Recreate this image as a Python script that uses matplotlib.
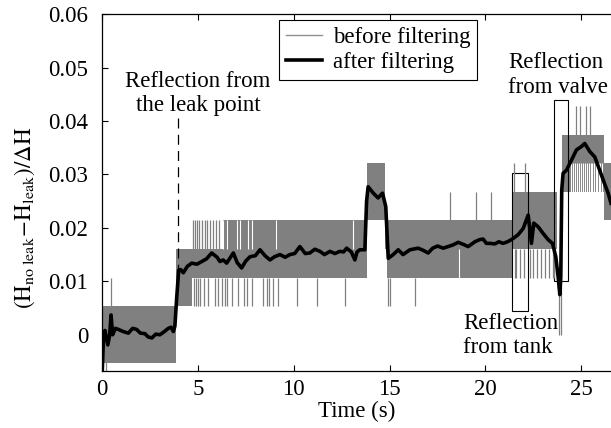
import matplotlib
matplotlib.use("Agg")
import matplotlib.pyplot as plt
from matplotlib.lines import Line2D
from matplotlib.patches import Rectangle

plt.rcParams['font.family'] = ['Liberation Serif', 'DejaVu Serif']
plt.rcParams['mathtext.fontset'] = 'stix'

# quantisation step of the raw signal
Q = 0.00535

# raw signal ("before filtering"): dense bands (t0, t1, low level, high level) in units of Q
band_t0 = [0.0, 3.85, 4.7, 6.3, 13.8, 14.75, 14.85, 21.4, 24.0, 26.2]
band_t1 = [3.85, 4.7, 6.3, 13.8, 14.75, 14.85, 21.4, 23.75, 26.2, 26.6]
band_lo = [-1, 1, 2, 2, 4, 3, 2, 3, 5, 4]
band_hi = [1, 3, 3, 4, 6, 4, 4, 5, 7, 6]

# isolated spikes of the raw signal
spike_t = [0.2, 0.47,
           4.75, 4.85, 4.95, 5.05, 5.2, 5.35, 5.5, 5.65, 5.8, 5.95, 6.1,
           4.78, 4.88, 4.98, 5.1, 5.3, 5.52, 5.9, 6.05, 6.25, 6.41, 6.53, 6.76, 7.1, 7.4,
           7.54, 7.8, 8.41, 8.59, 8.72, 8.93, 9.19, 10.15, 11.2, 12.67,
           14.93, 15.0, 16.3,
           18.14, 19.5, 20.3,
           21.5, 22.05, 21.7, 22.2,
           21.55, 21.62, 21.8, 22.0, 22.3, 22.5, 22.7, 22.9, 23.1, 23.3, 23.5, 23.6,
           23.85, 23.95,
           24.75, 24.92, 25.23, 25.44]
spike_lo = [-2, 1,
            3, 3, 3, 3, 3, 3, 3, 3, 3, 3, 3,
            1, 1, 1, 1, 1, 1, 1, 1, 1, 1, 1, 1, 1, 1,
            1, 1, 1, 1, 1, 1, 1, 1, 1, 1,
            1, 1, 1,
            4, 4, 4,
            5, 5, 5, 5,
            2, 2, 2, 2, 2, 2, 2, 2, 2, 2, 2, 2,
            0, 0,
            7, 7, 7, 7]
spike_hi = [0, 2,
            4, 4, 4, 4, 4, 4, 4, 4, 4, 4, 4,
            2, 2, 2, 2, 2, 2, 2, 2, 2, 2, 2, 2, 2, 2,
            2, 2, 2, 2, 2, 2, 2, 2, 2, 2,
            2, 2, 2,
            5, 5, 5,
            6, 6, 5, 5,
            3, 3, 3, 3, 3, 3, 3, 3, 3, 3, 3, 3,
            2, 5,
            8, 8, 8, 8]

# short gaps where the raw signal stays inside the band
gap_t = [6.32, 6.5, 7.02, 7.2, 7.63, 7.8, 9.1, 13.1, 18.6,
         24.45, 24.55, 24.68, 24.8, 24.88, 25.0, 25.08, 25.17, 25.3, 25.38, 25.5,
         25.58, 25.66, 25.75, 25.84, 25.92, 26.0, 26.08]
gap_lo = [3, 3, 3, 3, 3, 3, 3, 3, 2,
          5, 5, 5, 5, 5, 5, 5, 5, 5, 5, 5, 5, 5, 5, 5, 5, 5, 5]
gap_hi = [4, 4, 4, 4, 4, 4, 4, 4, 3,
          6, 6, 6, 6, 6, 6, 6, 6, 6, 6, 6, 6, 6, 6, 6, 6, 6, 6]

# filtered signal
filt_t = [0.0, 0.07, 0.15, 0.3, 0.4, 0.47, 0.55, 0.7, 0.85, 1.1, 1.37, 1.6, 1.8, 2.0,
          2.24, 2.4, 2.6, 2.8, 3.02, 3.25, 3.46, 3.6, 3.72, 3.8, 3.9, 4.0, 4.1, 4.24,
          4.45, 4.68, 4.95, 5.2, 5.45, 5.72, 6.0, 6.15, 6.32, 6.5, 6.85, 7.05, 7.28,
          7.5, 7.72, 8.0, 8.24, 8.5, 8.76, 9.0, 9.28, 9.55, 9.8, 10.05, 10.32, 10.6,
          10.84, 11.1, 11.37, 11.6, 11.89, 12.15, 12.4, 12.6, 12.76, 13.0, 13.19, 13.3,
          13.45, 13.71, 13.8, 13.88, 14.15, 14.4, 14.63, 14.8, 14.93, 15.19, 15.45,
          15.7, 16.06, 16.49, 16.75, 17.01, 17.25, 17.5, 17.8, 18.05, 18.3, 18.58,
          18.85, 19.1, 19.45, 19.7, 19.88, 20.05, 20.23, 20.49, 20.7, 20.92, 21.15,
          21.36, 21.7, 21.97, 22.23, 22.4, 22.52, 22.75, 23.0, 23.27, 23.5, 23.67,
          23.79, 23.88, 23.93, 23.98, 24.05, 24.23, 24.49, 24.75, 25.0, 25.18, 25.44,
          25.7, 25.96, 26.2, 26.4, 26.55]
filt_v = [-0.008, -0.001, 0.0008, -0.0019, 0.0, 0.0037, 0.0, 0.0012, 0.001, 0.0006,
          0.0003, 0.0012, 0.001, 0.0003, 0.0002, -0.0004, -0.0006, 0.0001, 0.0,
          0.0006, 0.0012, 0.0014, 0.0006, 0.0016, 0.0072, 0.0121, 0.0122, 0.0116,
          0.0128, 0.0134, 0.0132, 0.0137, 0.0142, 0.0153, 0.0145, 0.0137, 0.014,
          0.0134, 0.0153, 0.0135, 0.0125, 0.0138, 0.0146, 0.0148, 0.0159, 0.0148,
          0.014, 0.0146, 0.015, 0.0145, 0.015, 0.0152, 0.0165, 0.0152, 0.0153, 0.016,
          0.0156, 0.015, 0.0156, 0.0152, 0.0156, 0.0155, 0.0162, 0.0155, 0.014,
          0.0155, 0.0159, 0.0159, 0.025, 0.0277, 0.0265, 0.0256, 0.0265, 0.024,
          0.0143, 0.015, 0.0159, 0.015, 0.0159, 0.0162, 0.0158, 0.0153, 0.0162,
          0.0166, 0.0162, 0.0165, 0.0168, 0.0173, 0.0169, 0.0165, 0.0174, 0.0178,
          0.0179, 0.0171, 0.0171, 0.017, 0.0174, 0.0171, 0.0174, 0.0178, 0.0187,
          0.0199, 0.0224, 0.0171, 0.0209, 0.0202, 0.019, 0.0178, 0.0171, 0.0146,
          0.0109, 0.0075, 0.0109, 0.0271, 0.0302, 0.0308, 0.0327, 0.0346, 0.0352,
          0.0358, 0.0343, 0.0333, 0.0308, 0.0284, 0.0265, 0.0246]

xticks = [0, 5, 10, 15, 20, 25]
yticks = [0, 0.01, 0.02, 0.03, 0.04, 0.05, 0.06]
ytick_labels = ['0', '0.01', '0.02', '0.03', '0.04', '0.05', '0.06']

GRAY = '#808080'
FS = 16.5

fig = plt.figure(figsize=(6.11, 4.28), dpi=100)
ax = fig.add_axes([0.167, 0.133, 0.833, 0.834])

for t0, t1, lo, hi in zip(band_t0, band_t1, band_lo, band_hi):
    ax.fill_between([t0, t1], [lo * Q] * 2, [hi * Q] * 2, color=GRAY, lw=0)
ax.vlines(spike_t, [v * Q for v in spike_lo], [v * Q for v in spike_hi],
          color=GRAY, lw=0.9)
ax.vlines(gap_t, [v * Q for v in gap_lo], [v * Q for v in gap_hi],
          color='white', lw=0.8)

# leak point marker
ax.plot([3.95, 3.95], [0.0405, 0.012], color='black', lw=0.9, dashes=(8, 5))

ax.plot(filt_t, filt_v, color='black', lw=2.6, solid_joinstyle='round')

# boxes round the tank and valve reflections
ax.add_patch(Rectangle((21.37, 0.0044), 0.86, 0.0258, fill=False, ec='black', lw=0.8))
ax.add_patch(Rectangle((23.57, 0.0100), 0.74, 0.0339, fill=False, ec='black', lw=0.8))

ax.text(5.0, 0.0452, 'Reflection from\nthe leak point', ha='center', va='center',
        fontsize=FS, linespacing=1.2)
ax.text(18.85, -0.0002, 'Reflection\nfrom tank', ha='left', va='center',
        fontsize=FS, linespacing=1.2)
ax.text(21.2, 0.0486, 'Reflection\nfrom valve', ha='left', va='center',
        fontsize=FS, linespacing=1.2)

handles = [Line2D([], [], color='#909090', lw=1.0),
           Line2D([], [], color='black', lw=2.6)]
leg = ax.legend(handles, ['before filtering', 'after filtering'], loc='upper left',
                bbox_to_anchor=(0.348, 0.983), fontsize=FS, fancybox=False,
                framealpha=1, edgecolor='black', handlelength=1.55,
                handletextpad=0.5, borderpad=0.3, labelspacing=0.18,
                borderaxespad=0)
leg.get_frame().set_linewidth(0.8)

ax.set_xlim(0, 26.55)
ax.set_ylim(-0.0068, 0.06)
ax.set_xticks(xticks)
ax.set_yticks(yticks)
ax.set_yticklabels(ytick_labels)
ax.tick_params(direction='in', length=4, width=0.8, labelsize=FS, top=True,
               right=False, pad=6)
ax.tick_params(axis='y', pad=10)
ax.spines['right'].set_visible(False)
for s in ['left', 'bottom', 'top']:
    ax.spines[s].set_linewidth(0.9)

ax.set_xlabel('Time (s)', fontsize=FS, labelpad=0)
ax.set_ylabel(r'$\mathrm{(H_{no\ leak}\!-\!H_{leak})/\Delta H}$', fontsize=FS)
ax.yaxis.set_label_coords(-0.127, 0.43)

fig.savefig('out.png', dpi=100)
